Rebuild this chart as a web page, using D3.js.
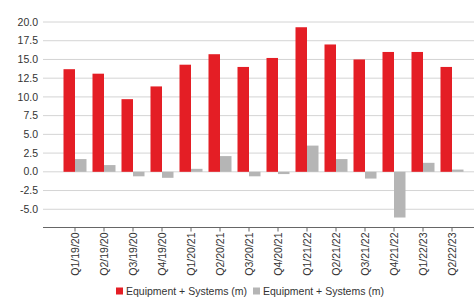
<!DOCTYPE html>
<html>
<head>
<meta charset="utf-8">
<script src="https://cdn.jsdelivr.net/npm/d3@7"></script>
<style>
  body { margin: 0; background: #fff; }
  text { font-family: "Liberation Sans", Arial, sans-serif; }
</style>
</head>
<body>
<div class="canvas"></div>
<script>
const quarters = ['Q1/19/20', 'Q2/19/20', 'Q3/19/20', 'Q4/19/20', 'Q1/20/21', 'Q2/20/21', 'Q3/20/21',
  'Q4/20/21', 'Q1/21/22', 'Q2/21/22', 'Q3/21/22', 'Q4/21/22', 'Q1/22/23', 'Q2/22/23'];
const redValues = [13.7, 13.1, 9.7, 11.4, 14.3, 15.7, 14.0, 15.2, 19.3, 17.0, 15.0, 16.0, 16.0, 14.0];
const greyValues = [1.7, 0.9, -0.6, -0.8, 0.4, 2.1, -0.6, -0.3, 3.5, 1.7, -0.9, -6.1, 1.2, 0.3];
const yTicks = [20, 17.5, 15, 12.5, 10, 7.5, 5, 2.5, 0, -2.5, -5];
const seriesNames = ['Equipment + Systems (m)', 'Equipment + Systems (m)'];
const colors = ['#e41e25', '#b5b5b5'];

const width = 474, height = 298;
const svg = d3.select('.canvas')
  .append('svg')
  .attr('width', width)
  .attr('height', height);

const x = d3.scaleBand().domain(quarters).range([60.5, 466.5]);
const y = d3.scaleLinear().domain([-7.5, 20]).range([228, 22]);
const barW = 11.5;

// gridlines
svg.append('g')
  .selectAll('line')
  .data(yTicks)
  .enter().append('line')
    .attr('x1', 43).attr('x2', width)
    .attr('y1', d => y(d)).attr('y2', d => y(d))
    .attr('stroke', '#d4d4d4')
    .attr('stroke-width', 1);

// y labels
svg.append('g')
  .selectAll('text')
  .data(yTicks)
  .enter().append('text')
    .attr('x', 38)
    .attr('y', d => y(d))
    .attr('dy', '0.35em')
    .attr('text-anchor', 'end')
    .attr('fill', '#333')
    .style('font-size', '10.5px')
    .text(d => d.toFixed(1));

const center = d => x(d) + x.bandwidth() / 2;

// red bars
svg.append('g')
  .selectAll('rect')
  .data(quarters)
  .enter().append('rect')
    .attr('x', d => center(d) - barW)
    .attr('width', barW)
    .attr('y', (d, i) => y(Math.max(0, redValues[i])))
    .attr('height', (d, i) => Math.abs(y(redValues[i]) - y(0)))
    .attr('fill', colors[0]);

// grey bars
svg.append('g')
  .selectAll('rect')
  .data(quarters)
  .enter().append('rect')
    .attr('x', d => center(d))
    .attr('width', barW)
    .attr('y', (d, i) => y(Math.max(0, greyValues[i])))
    .attr('height', (d, i) => Math.abs(y(greyValues[i]) - y(0)))
    .attr('fill', colors[1]);

// x axis
const xAxis = d3.axisBottom(x).tickSize(4).tickSizeOuter(0);
const xAxisGroup = svg.append('g')
  .attr('transform', 'translate(0,227.5)')
  .call(xAxis);
xAxisGroup.select('.domain')
  .attr('d', `M43,0H${width}`)
  .attr('stroke', '#666');
xAxisGroup.selectAll('.tick line').attr('stroke', '#666');
xAxisGroup.selectAll('text')
  .attr('transform', 'rotate(-90)')
  .attr('text-anchor', 'end')
  .attr('x', -5)
  .attr('y', 0)
  .attr('dy', '0.35em')
  .attr('fill', '#333')
  .style('font-size', '10.5px')
  .style('font-family', '"Liberation Sans", Arial, sans-serif');

// legend
const legend = svg.append('g').attr('transform', 'translate(116,291)');
const legendX = [0, 137];
seriesNames.forEach((name, i) => {
  const g = legend.append('g').attr('transform', `translate(${legendX[i]},0)`);
  g.append('rect')
    .attr('x', 0).attr('y', -3.5)
    .attr('width', 7).attr('height', 7)
    .attr('fill', colors[i]);
  g.append('text')
    .attr('x', 10)
    .attr('y', 0)
    .attr('dy', '0.35em')
    .attr('fill', '#333')
    .style('font-size', '10.5px')
    .text(name);
});
</script>
</body>
</html>
